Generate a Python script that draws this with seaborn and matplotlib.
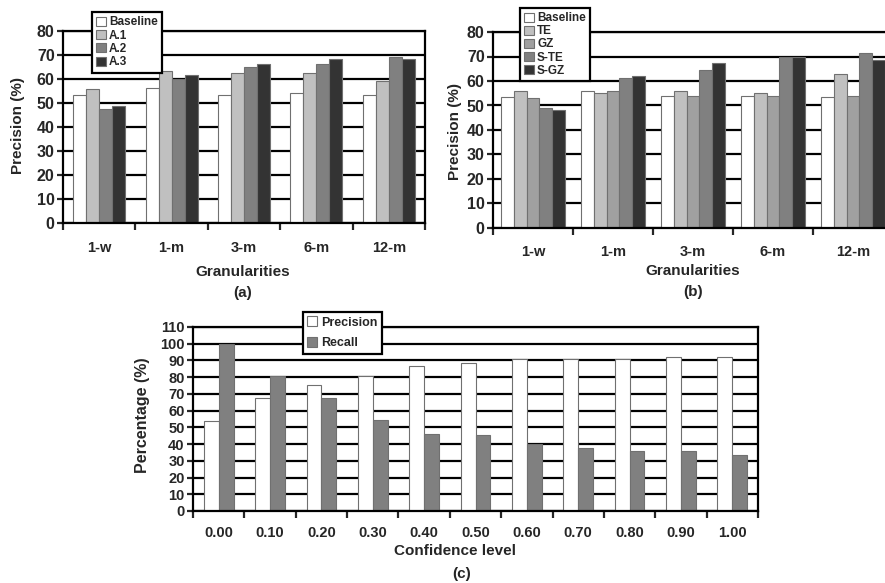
import numpy as np
import pandas as pd
import matplotlib
matplotlib.use('Agg')
import matplotlib.pyplot as plt
import seaborn as sns

# panel (a) / (b): precision per time granularity
granularities = ['1-w', '1-m', '3-m', '6-m', '12-m']

methods_a = ['Baseline', 'A.1', 'A.2', 'A.3']
baseline_a = [53.5, 56.4, 53.5, 54.2, 53.5]
a1 = [55.9, 63.3, 62.5, 62.5, 59.0]
a2 = [47.4, 60.1, 65.0, 66.3, 69.3]
a3 = [48.6, 61.5, 66.3, 68.5, 68.2]

methods_b = ['Baseline', 'TE', 'GZ', 'S-TE', 'S-GZ']
baseline_b = [53.6, 55.9, 53.7, 53.9, 53.6]
te = [55.9, 54.9, 56.0, 54.9, 63.0]
gz = [53.0, 56.0, 54.0, 53.8, 53.8]
s_te = [49.0, 61.4, 64.4, 70.0, 71.4]
s_gz = [48.2, 62.0, 67.2, 70.0, 68.4]

# panel (c): precision / recall vs confidence level
confidence = ['0.00', '0.10', '0.20', '0.30', '0.40', '0.50',
              '0.60', '0.70', '0.80', '0.90', '1.00']
precision_c = [54.0, 67.5, 75.2, 81.0, 86.6, 88.6, 90.6, 91.0, 91.0, 92.2, 92.2]
recall_c = [100.0, 81.0, 67.6, 54.6, 46.2, 45.2, 40.0, 37.6, 36.0, 35.6, 33.2]

sns.set_style('white')
plt.rcParams['font.family'] = ['Liberation Sans', 'DejaVu Sans']
plt.rcParams['font.weight'] = 'bold'

W, H = 885, 583
fig = plt.figure(figsize=(W / 100, H / 100), dpi=100)


def px(x, y):
    return x / W, 1 - y / H


def long_df(cats, names, series, catname):
    rows = []
    for name, vals in zip(names, series):
        for c, v in zip(cats, vals):
            rows.append({catname: c, 'method': name, 'value': v})
    return pd.DataFrame(rows)


def style_axis(ax, ymax, ystep, ncat, yfs, xfs, xpad):
    ax.set_ylim(0, ymax)
    ax.set_xlim(-0.5, ncat - 0.5)
    ax.set_yticks(np.arange(0, ymax + 1, ystep))
    ax.yaxis.grid(True, color='black', linewidth=1.6)
    ax.set_axisbelow(True)
    for s in ax.spines.values():
        s.set_color('black')
        s.set_linewidth(1.6)
    ax.tick_params(axis='y', which='major', length=4, width=1.6, direction='out',
                   pad=2, labelsize=yfs, left=True)
    ax.set_xticks(np.arange(ncat + 1) - 0.5, minor=True)
    ax.tick_params(axis='x', which='minor', length=5, width=1.6, direction='out', bottom=True)
    ax.tick_params(axis='x', which='major', length=0, pad=xpad, labelsize=xfs)
    for t in ax.get_xticklabels() + ax.get_yticklabels():
        t.set_fontweight('bold')
    ax.set_xlabel('')
    ax.set_ylabel('')


def make_legend(ax, anchor, fs, spacing):
    h, l = ax.get_legend_handles_labels()
    leg = ax.legend(h, l, loc='upper left', bbox_to_anchor=anchor,
                    bbox_transform=fig.transFigure, fancybox=False, framealpha=1,
                    edgecolor='black', handlelength=0.8, handleheight=0.8,
                    handletextpad=0.3, labelspacing=spacing, borderpad=0.35,
                    borderaxespad=0, prop={'size': fs, 'weight': 'bold'})
    leg.get_frame().set_linewidth(1.6)
    leg.set_zorder(10)
    return leg


edge = '#707070'

# ---- panel (a)
l, b = px(63, 223)
r, t = px(425, 31)
ax_a = fig.add_axes([l, b, r - l, t - b])
df_a = long_df(granularities, methods_a, [baseline_a, a1, a2, a3], 'gran')
sns.barplot(data=df_a, x='gran', y='value', hue='method', ax=ax_a,
            palette=['white', '#c0c0c0', '#808080', '#333333'],
            width=0.72, edgecolor=edge, linewidth=0.8, saturation=1)
style_axis(ax_a, 80, 10, len(granularities), 11.5, 10.5, 13)
make_legend(ax_a, px(92, 12), 8.5, 0.12)
fig.text(*px(18, 126), 'Precision (%)', rotation=90, ha='center', va='center',
         fontsize=11, fontweight='bold')
fig.text(*px(243, 272), 'Granularities', ha='center', va='center',
         fontsize=11, fontweight='bold')
fig.text(*px(243, 293), '(a)', ha='center', va='center', fontsize=11, fontweight='bold')

# ---- panel (b)
l, b = px(493, 228)
r, t = px(893, 32)
ax_b = fig.add_axes([l, b, r - l, t - b])
df_b = long_df(granularities, methods_b, [baseline_b, te, gz, s_te, s_gz], 'gran')
sns.barplot(data=df_b, x='gran', y='value', hue='method', ax=ax_b,
            palette=['white', '#c0c0c0', '#a0a0a0', '#808080', '#333333'],
            width=0.8, edgecolor=edge, linewidth=0.8, saturation=1)
style_axis(ax_b, 80, 10, len(granularities), 11.5, 10.5, 12)
make_legend(ax_b, px(520, 8), 8.5, 0.1)
fig.text(*px(455, 132), 'Precision (%)', rotation=90, ha='center', va='center',
         fontsize=11, fontweight='bold')
fig.text(*px(693, 271), 'Granularities', ha='center', va='center',
         fontsize=11, fontweight='bold')
fig.text(*px(693, 292), '(b)', ha='center', va='center', fontsize=11, fontweight='bold')

# ---- panel (c)
l, b = px(193, 511)
r, t = px(758, 327)
ax_c = fig.add_axes([l, b, r - l, t - b])
df_c = long_df(confidence, ['Precision', 'Recall'], [precision_c, recall_c], 'conf')
sns.barplot(data=df_c, x='conf', y='value', hue='method', ax=ax_c,
            palette=['white', '#808080'],
            width=0.58, edgecolor=edge, linewidth=0.8, saturation=1)
style_axis(ax_c, 110, 10, len(confidence), 10.5, 10.5, 11)
make_legend(ax_c, px(303, 312), 9, 0.7)
fig.text(*px(143, 415), 'Percentage (%)', rotation=90, ha='center', va='center',
         fontsize=11.5, fontweight='bold')
fig.text(*px(455, 551), 'Confidence level', ha='center', va='center',
         fontsize=11, fontweight='bold')
fig.text(*px(462, 574), '(c)', ha='center', va='center', fontsize=11, fontweight='bold')

fig.savefig('out.png', dpi=100)
